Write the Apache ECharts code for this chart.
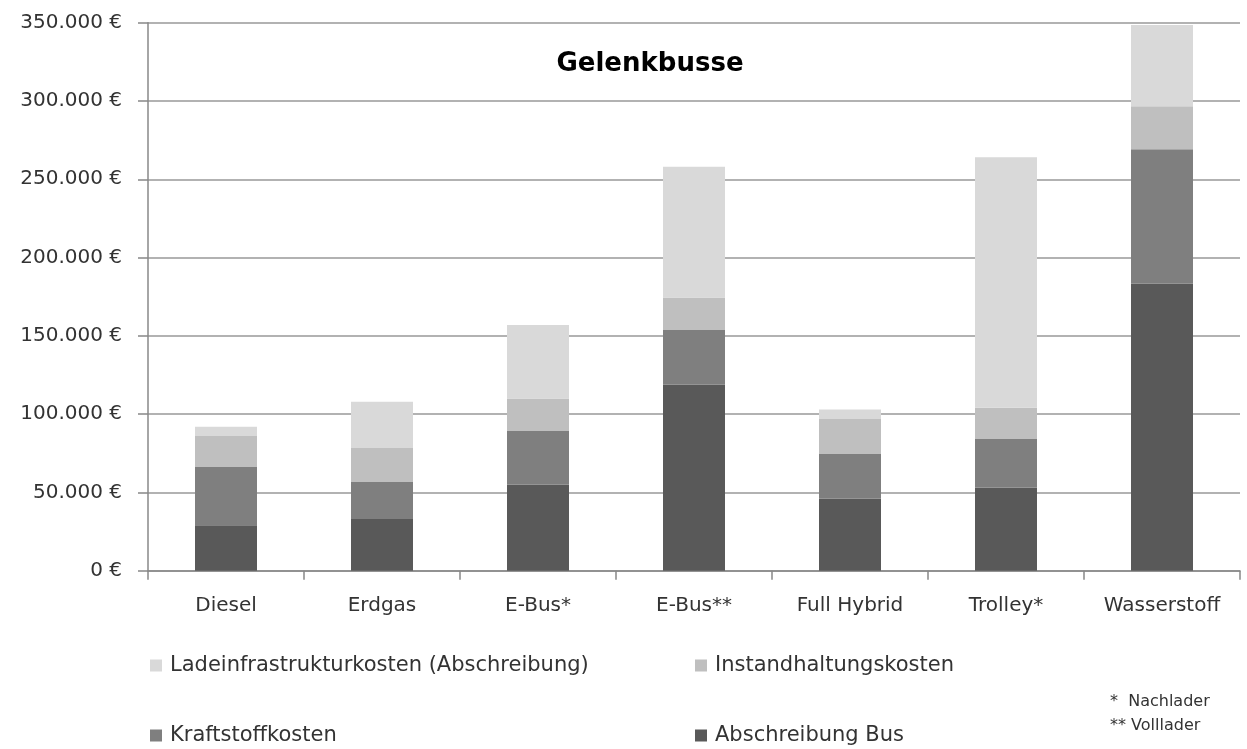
<!DOCTYPE html>
<html><head><meta charset="utf-8">
<script src="https://cdn.jsdelivr.net/npm/echarts@6/dist/echarts.min.js"></script>
<style>html,body{margin:0;padding:0;background:#fff}#c{width:1247px;height:749px}</style>
</head><body><div id="c"></div>
<script>
const categories = ['Diesel','Erdgas','E-Bus*','E-Bus**','Full Hybrid','Trolley*','Wasserstoff'];
const abschreibungBus = [29000, 33000, 55000, 119000, 46000, 53000, 183500];
const kraftstoffkosten = [37500, 24000, 34600, 35000, 28500, 31500, 85600];
const instandhaltungskosten = [19600, 21300, 20400, 20500, 22400, 19500, 27600];
const ladeinfrastrukturkosten = [5900, 29600, 47000, 83500, 6100, 160000, 51800];
const yTicks = [0, 50000, 100000, 150000, 200000, 250000, 300000, 350000];

const FONT = '"DejaVu Sans", "Noto Sans", sans-serif';
const chart = echarts.init(document.getElementById('c'));
function fmt(v){ return String(v).replace(/\B(?=(\d{3})+(?!\d))/g, '.') + ' €'; }
const lg = (name, left, top) => ({
  data:[name], left, top, padding:0, itemWidth:12, itemHeight:12, icon:'rect', itemGap:0,
  textStyle:{fontFamily:FONT, fontSize:21, color:'#333', padding:[0,0,0,3]}, selectedMode:false
});
chart.setOption({
  animation:false,
  backgroundColor:'#fff',
  title:{text:'Gelenkbusse', left:650, top:51, padding:0, textAlign:'center',
    textStyle:{fontFamily:FONT, fontSize:26, fontWeight:'bold', color:'#000'}},
  grid:{left:148, right:7, top:22.7, bottom:178.3, containLabel:false},
  legend:[
    lg('Ladeinfrastrukturkosten (Abschreibung)', 150, 655),
    lg('Instandhaltungskosten', 695, 655),
    lg('Kraftstoffkosten', 150, 725),
    lg('Abschreibung Bus', 695, 725)
  ],
  graphic:[
    {type:'text', left:1110, top:694, style:{text:'*  Nachlader', font:'16px '+FONT, fill:'#333'}},
    {type:'text', left:1110, top:718, style:{text:'** Volllader', font:'16px '+FONT, fill:'#333'}}
  ],
  xAxis:{type:'category', data:categories,
    axisLine:{lineStyle:{color:'#888', width:1.5}},
    axisTick:{show:true, length:9, lineStyle:{color:'#888', width:1.5}},
    axisLabel:{fontFamily:FONT, fontSize:20, color:'#333', margin:25}},
  yAxis:{type:'value', min:0, max:350000, interval:50000,
    axisLine:{show:true, lineStyle:{color:'#888', width:1.5}},
    axisTick:{show:true, inside:false, length:10, lineStyle:{color:'#888', width:1.5}},
    splitLine:{lineStyle:{color:'#999', width:1.5}},
    axisLabel:{fontFamily:FONT, fontSize:20, color:'#333', margin:26, formatter:v=>fmt(v)}},
  series:[
    {name:'Abschreibung Bus', type:'bar', stack:'s', data:abschreibungBus, itemStyle:{color:'#595959'}, barWidth:62},
    {name:'Kraftstoffkosten', type:'bar', stack:'s', data:kraftstoffkosten, itemStyle:{color:'#7f7f7f'}},
    {name:'Instandhaltungskosten', type:'bar', stack:'s', data:instandhaltungskosten, itemStyle:{color:'#bfbfbf'}},
    {name:'Ladeinfrastrukturkosten (Abschreibung)', type:'bar', stack:'s', data:ladeinfrastrukturkosten, itemStyle:{color:'#d9d9d9'}}
  ]
});
</script></body></html>
